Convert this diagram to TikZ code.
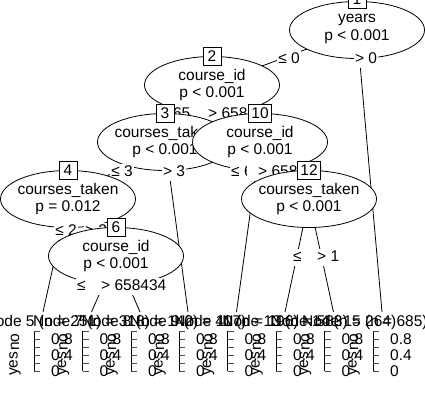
\documentclass[tikz,border=0pt]{standalone}
\usepackage{fontspec}
\setmainfont{Liberation Sans}
\usetikzlibrary{shapes.geometric}
\newcommand{\termpanel}[5]{%
  % #1 name, #2 centre x, #3 header text, #4 header anchor, #5 header x
  \node[thead,anchor=#4] (#1h) at (#5,326) {#3};
  \node[rotlab] (#1yes) at (#2-28,376) {yes};
  \node[rotlab] (#1no) at (#2-28,351) {no};
  \draw[axisl] (#2-9,331) -- (#2-9,371);
  \foreach \k in {0,...,5}{\draw[tickl] (#2-9,331+8*\k) -- (#2-3,331+8*\k);}
  \node[ticklab] (#1a) at (#2+8,339) {0.8};
  \node[ticklab] (#1b) at (#2+8,355) {0.4};
  \node[ticklab] (#1c) at (#2+8,371) {0};
}
\begin{document}
\begin{tikzpicture}[x=1pt,y=-1pt,
  every node/.style={font=\fontsize{15.5}{17.5}\selectfont},
  edge/.style={line width=0.8pt},
  inner/.style={ellipse, draw, fill=white, line width=0.8pt, minimum width=135pt, minimum height=57pt, inner sep=0pt},
  ntext/.style={align=center, inner sep=0pt},
  idbox/.style={draw, fill=white, line width=0.8pt, minimum width=18pt, minimum height=18pt, inner xsep=3pt, inner ysep=0pt},
  elab/.style={fill=white, inner xsep=1pt, inner ysep=1.5pt, text height=11pt, text depth=3pt},
  thead/.style={inner sep=0pt},
  rotlab/.style={rotate=90, anchor=west, inner sep=0pt},
  axisl/.style={line width=0.8pt},
  tickl/.style={line width=0.8pt, gray!60!black},
  ticklab/.style={anchor=west, inner sep=0pt}
]
\fill[white] (0,0) rectangle (425,416);
\useasboundingbox (0,0) rectangle (425,416);
% centres of inner nodes
\coordinate (c1) at (357,30);
\coordinate (c2) at (212,85);
\coordinate (c3) at (165,142);
\coordinate (c10) at (260,142);
\coordinate (c4) at (68,199);
\coordinate (c12) at (309,199);
\coordinate (c6) at (116,256);
% ends at terminal nodes
\coordinate (t5) at (43,312);
\coordinate (t7) at (91.5,312);
\coordinate (t8) at (140,312);
\coordinate (t9) at (188,312);
\coordinate (t11) at (236.5,312);
\coordinate (t13) at (285,312);
\coordinate (t14) at (333.5,312);
\coordinate (t15) at (382,312);
% ---- node 1
\draw[edge] (c1) -- (c2);
\draw[edge] (c1) -- (t15);
\node[inner] (n1) at (c1) {};
\node[ntext] (n1t) at ([yshift=1pt]c1) {years\\p < 0.001};
\node[idbox] (b1) at (357,-1) {1};
\node[elab] (l1a) at (289,59.5) {≤ 0};
\node[elab] (l1b) at (366,59.5) {> 0};
% ---- node 2
\draw[edge] (c2) -- (c3);
\draw[edge] (c2) -- (c10);
\node[inner] (n2) at (c2) {};
\node[ntext] (n2t) at (c2) {course\_id\\p < 0.001};
\node[idbox] (b2) at (212,56) {2};
\node[elab,anchor=west] (l2a) at (159,114.5) {≤ 658434};
\node[elab,anchor=west] (l2b) at (191,114.5) {\hspace*{16pt}> 658434};
% ---- node 3
\draw[edge] (c3) -- (c4);
\draw[edge] (c3) -- (t9);
\node[inner] (n3) at (c3) {};
\node[ntext] (n3t) at (c3) {courses\_taken\\p < 0.001};
\node[idbox] (b3) at (165,113) {3};
\node[elab] (l3a) at (122,172.5) {≤ 3};
\node[elab] (l3b) at (174,172.5) {> 3};
% ---- node 4
\draw[edge] (c4) -- (t5);
\draw[edge] (c4) -- (c6);
\node[inner] (n4) at (c4) {};
\node[ntext] (n4t) at (c4) {courses\_taken\\p = 0.012};
\node[idbox] (b4) at (68,170) {4};
\node[elab] (l4a) at (66,231.5) {≤ 2};
\node[elab] (l4b) at (96,231.5) {> 2};
% ---- terminal 5
\termpanel{p5}{43}{Node 5 (n = 251)}{base}{43}
% ---- node 6
\draw[edge] (c6) -- (t7);
\draw[edge] (c6) -- (t8);
\node[inner] (n6) at (c6) {};
\node[ntext] (n6t) at (c6) {course\_id\\p < 0.001};
\node[idbox] (b6) at (116,227) {6};
\node[elab,anchor=west] (l6a) at (76,286.5) {≤ 658434};
\node[elab,anchor=west] (l6b) at (87,286.5) {\hspace*{13pt}> 658434};
\termpanel{p7}{91.5}{Node 7 (n = 318)}{base}{91.5}
\termpanel{p8}{140}{Node 8 (n = 142)}{base}{140}
\termpanel{p9}{188}{Node 9 (n = 407)}{base}{188}
% ---- node 10
\draw[edge] (c10) -- (t11);
\draw[edge] (c10) -- (c12);
\node[inner] (n10) at (c10) {};
\node[ntext] (n10t) at (c10) {course\_id\\p < 0.001};
\node[idbox] (b10) at (260,113) {10};
\node[elab,anchor=west] (l10a) at (230,172.5) {≤ 658434};
\node[elab,anchor=west] (l10b) at (247,172.5) {\hspace*{10pt}> 658434};
\termpanel{p11}{236.5}{Node 11 (n = 196)}{base}{236.5}
% ---- node 12
\draw[edge] (c12) -- (t13);
\draw[edge] (c12) -- (t14);
\node[inner] (n12) at (c12) {};
\node[ntext] (n12t) at (c12) {courses\_taken\\p < 0.001};
\node[idbox] (b12) at (309,170) {12};
\node[elab,anchor=west] (l12a) at (292,257.5) {≤ 1};
\node[elab,anchor=west] (l12b) at (303,257.5) {\hspace*{13pt}> 1};
\termpanel{p13}{285}{Node 13 (n = 583)}{base}{285}
\termpanel{p14}{333.5}{Node 14 (n = 264)}{base}{333.5}
% ---- terminal 15
\termpanel{p15}{382}{Node 15 (n = 685)}{base west}{302}
\end{tikzpicture}
\end{document}
